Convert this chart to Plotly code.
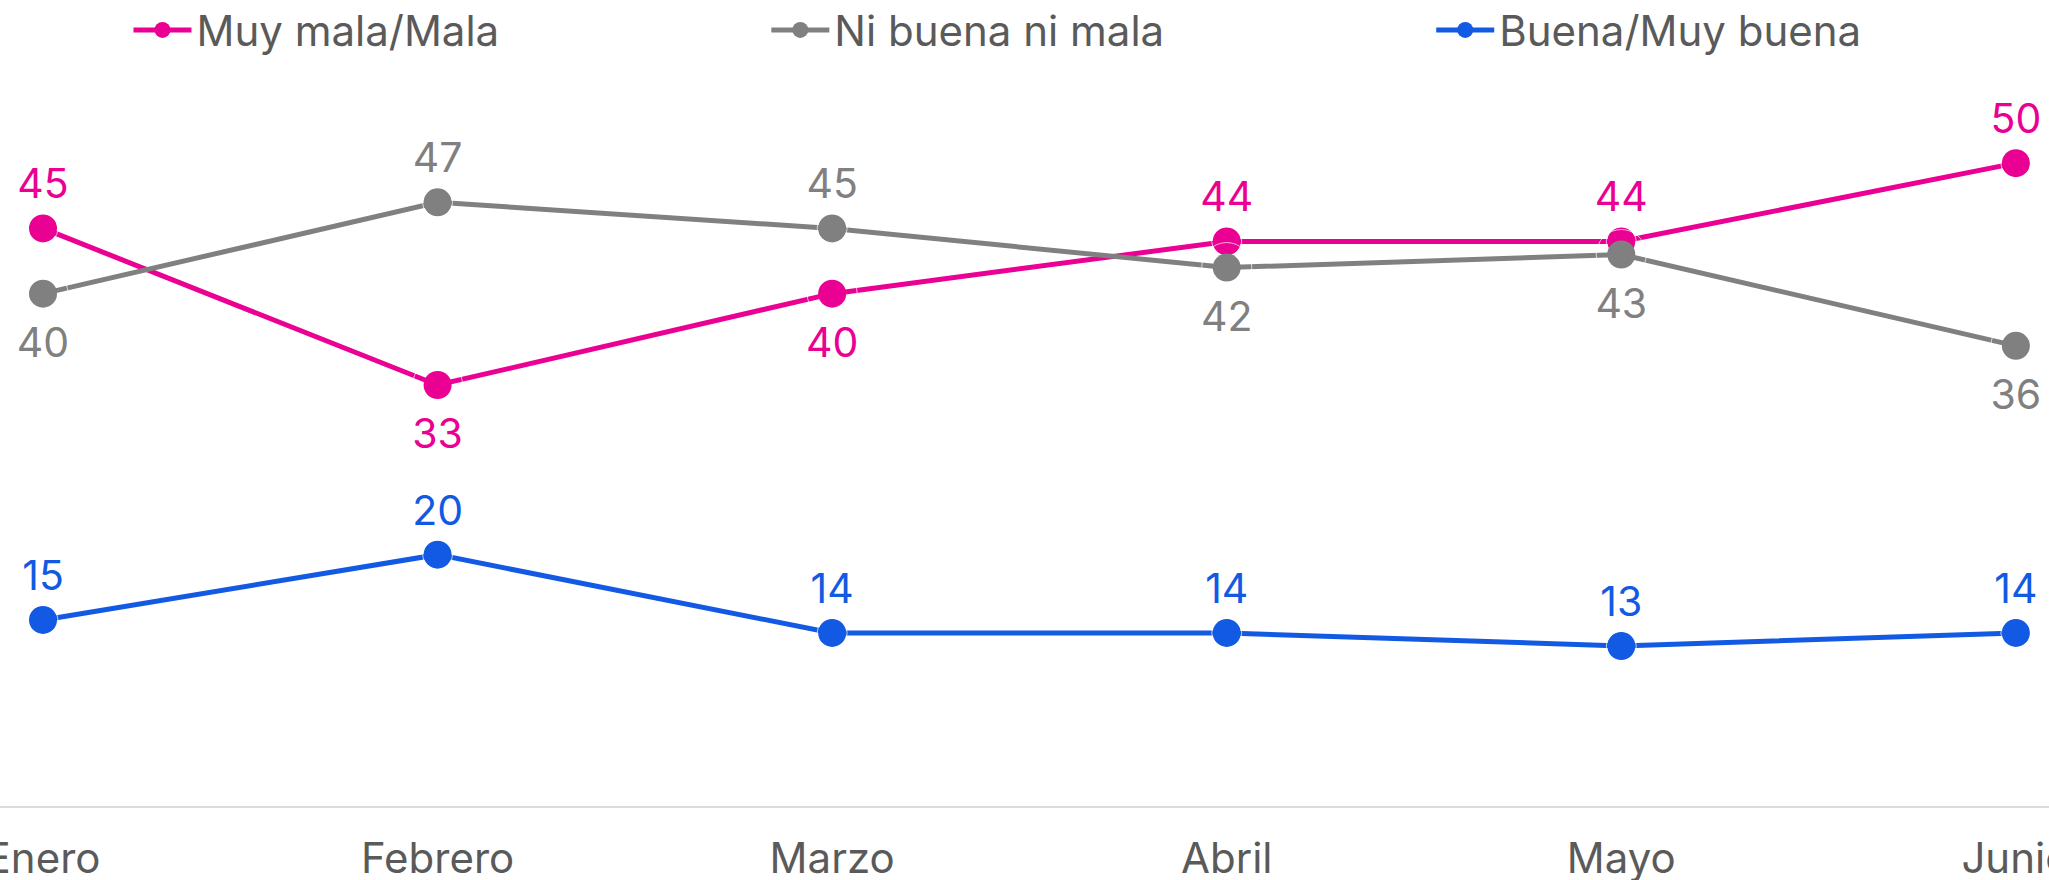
import plotly.graph_objects as go

# Monthly survey results (%)
meses = ["Enero", "Febrero", "Marzo", "Abril", "Mayo", "Junio"]
muy_mala_mala = [45, 33, 40, 44, 44, 50]
ni_buena_ni_mala = [40, 47, 45, 42, 43, 36]
buena_muy_buena = [15, 20, 14, 14, 13, 14]

series_names = ["Muy mala/Mala", "Ni buena ni mala", "Buena/Muy buena"]

MAGENTA = "#EA0092"
GRAY = "#808080"
BLUE = "#1259E3"
TEXT = "#5A5A5A"
FONT = "Inter"

# label side for each point: True = above, False = below
above_mala = [True, False, False, True, True, True]
above_ni = [False, True, True, False, False, False]
above_buena = [True] * 6

fig = go.Figure()

specs = [
    (series_names[0], muy_mala_mala, MAGENTA, above_mala, "legend"),
    (series_names[1], ni_buena_ni_mala, GRAY, above_ni, "legend2"),
    (series_names[2], buena_muy_buena, BLUE, above_buena, "legend3"),
]
for name, vals, color, above, leg in specs:
    fig.add_trace(go.Scatter(
        x=meses, y=vals, name=name,
        mode="lines+markers",
        line=dict(color=color, width=5),
        marker=dict(color=color, size=28),
        cliponaxis=False,
        hoverinfo="skip",
        legend=leg,
    ))
    # value labels; an invisible halo marker sets the gap between point and label
    fig.add_trace(go.Scatter(
        x=meses, y=vals,
        mode="markers+text",
        text=[str(v) for v in vals],
        textposition=["top center" if a else "bottom center" for a in above],
        textfont=dict(family=FONT, size=41, color=color),
        marker=dict(color="rgba(0,0,0,0)", size=[30 if a else 50 for a in above]),
        cliponaxis=False,
        hoverinfo="skip",
        showlegend=False,
    ))

leg_common = dict(
    orientation="h", yanchor="middle", xanchor="left", y=1.099,
    font=dict(family=FONT, size=42, color=TEXT),
    bgcolor="rgba(0,0,0,0)", borderwidth=0, itemsizing="trace",
    itemwidth=58,
)

fig.update_layout(
    width=2049, height=880,
    margin=dict(l=0, r=0, t=100, b=74, autoexpand=False),
    paper_bgcolor="white", plot_bgcolor="white",
    font=dict(family=FONT, color=TEXT),
    showlegend=True,
    legend=dict(x=0.0627, **leg_common),
    legend2=dict(x=0.3740, **leg_common),
    legend3=dict(x=0.6985, **leg_common),
    xaxis=dict(
        range=[-0.109, 5.084],
        automargin=False,
        showgrid=False, zeroline=False,
        showline=True, linecolor="#DCDCDC", linewidth=2,
        ticks="", ticklabelstandoff=15,
        tickfont=dict(family=FONT, size=42, color=TEXT),
        fixedrange=True,
    ),
    yaxis=dict(
        range=[0.74, 54.84],
        automargin=False,
        showgrid=False, zeroline=False, showline=False,
        showticklabels=False, ticks="",
        fixedrange=True,
    ),
)

fig.write_html("out.html")
